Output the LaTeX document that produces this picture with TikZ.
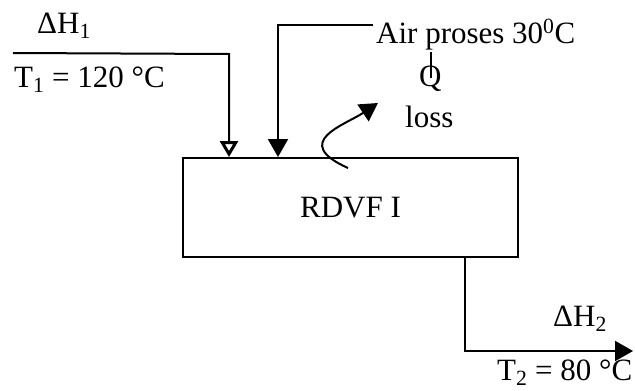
\documentclass[tikz,border=0pt]{standalone}
\usepackage{fontspec}
\setmainfont{Liberation Serif}
\usetikzlibrary{arrows.meta,calc}
\begin{document}
\begin{tikzpicture}[x=1pt,y=-1pt,
  wire/.style={line width=2pt},
  lbl/.style={inner sep=0pt, anchor=base west, font=\fontsize{31}{36}\selectfont},
  solidtip/.style={-{Triangle[width=20pt,length=18pt]}},
  opentip/.style={-{Triangle[open,width=18pt,length=16pt,line width=3pt]}}]
\useasboundingbox (0,0) rectangle (635,391);
\node[draw, line width=2pt, minimum width=335pt, minimum height=99pt, inner sep=0pt,
  font=\fontsize{31}{36}\selectfont] (box) at (350.5,207.5) {RDVF I};
\node[lbl] (dh1) at (37,33) {ΔH\textsubscript{1}};
\node[lbl] (t1) at (14,87) {T\textsubscript{1} = 120 °C};
\node[lbl] (air) at (376,43) {Air proses 30\textsuperscript{0}C};
\node[lbl] (q) at (419,86) {Q};
\node[lbl] (loss) at (405,127) {loss};
\node[lbl] (dh2) at (553,326) {ΔH\textsubscript{2}};
\node[lbl] (t2) at (497,380) {T\textsubscript{2} = 80 °C};
% input 1
\coordinate (s1) at (13,53);
\coordinate (k1) at (229,54);
\draw[wire,opentip] (s1) -- (k1) -- (k1 |- box.north);
% air
\coordinate (s2) at (373,25);
\coordinate (k2) at (278,25);
\draw[wire,solidtip] (s2) -- (k2) -- (k2 |- box.north);
% Q tick
\coordinate (qt) at (431,52);
\draw[line width=1.2pt] (qt) -- (qt |- q.center);
% loss curve
\coordinate (c0) at (348,168);
\coordinate (c1) at (378,103);
\draw[wire,solidtip] (c0) .. controls (290,142) and (345,125) .. (c1);
% output
\coordinate (o1) at (465,351);
\coordinate (o2) at (633,351);
\draw[wire,solidtip] (o1 |- box.south) -- (o1) -- (o2);
\end{tikzpicture}
\end{document}
